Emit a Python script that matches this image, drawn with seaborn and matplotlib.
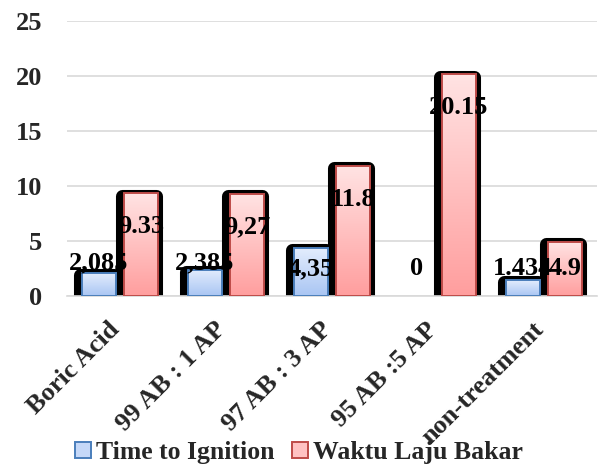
import numpy as np
import pandas as pd
import matplotlib
matplotlib.use("Agg")
import matplotlib.pyplot as plt
import matplotlib.patheffects as pe
from matplotlib.patches import Rectangle, Patch
from matplotlib.colors import LinearSegmentedColormap
import seaborn as sns

categories = ["Boric Acid", "99 AB : 1 AP", "97 AB : 3 AP", "95 AB :5 AP", "non-treatment"]
series_names = ["Time to Ignition", "Waktu Laju Bakar"]
time_to_ignition = [2.085, 2.385, 4.35, 0, 1.434]
waktu_laju_bakar = [9.33, 9.27, 11.8, 20.15, 4.9]
label_tti = ["2,085", "2,385", "4,35", "0", "1.434"]
label_wlb = ["9.33", "9,27", "11.8", "20.15", "4.9"]
y_ticks = [0, 5, 10, 15, 20, 25]

df = pd.DataFrame({
    "category": categories * 2,
    "series": [series_names[0]] * 5 + [series_names[1]] * 5,
    "value": time_to_ignition + waktu_laju_bakar,
})

sns.set_theme(style="white")
plt.rcParams["font.family"] = ["Liberation Serif", "DejaVu Serif"]
plt.rcParams["font.weight"] = "bold"

fig = plt.figure(figsize=(5.98, 4.69), dpi=100)
ax = fig.add_axes([0.112, 0.369, 0.886, 0.586])

edge_cols = {series_names[0]: "#4a7ebb", series_names[1]: "#be4b48"}
grads = {
    series_names[0]: LinearSegmentedColormap.from_list("b", ["#a9c5f3", "#e3edfd"]),
    series_names[1]: LinearSegmentedColormap.from_list("r", ["#ff9e9e", "#ffe3e3"]),
}
mid_cols = {series_names[0]: "#c5d8f8", series_names[1]: "#ffc2c2"}

sns.barplot(data=df, x="category", y="value", hue="series", hue_order=series_names,
            order=categories, palette=mid_cols, width=0.8, gap=0.2,
            legend=False, ax=ax, zorder=2)

ax.set_ylim(0, 25)
ax.set_xlim(-0.5, len(categories) - 0.5)
ax.set_yticks(y_ticks)
ax.grid(axis="y", color="#d9d9d9", linewidth=1.2, zorder=0)
ax.set_axisbelow(True)
for s in ["top", "right", "left"]:
    ax.spines[s].set_visible(False)
ax.spines["bottom"].set_color("#d9d9d9")
ax.spines["bottom"].set_linewidth(1.2)
ax.set_xlabel("")
ax.set_ylabel("")
ax.tick_params(axis="both", length=0)
ax.tick_params(axis="y", labelsize=19, pad=18)
for t in ax.get_yticklabels():
    t.set_fontweight("bold")
ax.set_xticks(range(len(categories)))
ax.set_xticklabels(categories, rotation=45, ha="right", va="top",
                   rotation_mode="anchor", fontsize=19, fontweight="bold")
for t in ax.get_xticklabels():
    t.set_transform(t.get_transform() + matplotlib.transforms.ScaledTranslation(-0.12, -0.17, fig.dpi_scale_trans))

bars = [p for p in ax.patches if isinstance(p, Rectangle)]
ser_order = [series_names[0]] * 5 + [series_names[1]] * 5
grad_img = np.linspace(0, 1, 256).reshape(-1, 1)
for p, sname in zip(bars, ser_order):
    x, y0 = p.get_x(), p.get_y()
    w, h = p.get_width(), p.get_height()
    p.set_facecolor("black")
    p.set_edgecolor("black")
    p.set_linewidth(0)
    if h <= 0:
        p.set_visible(False)
        continue
    p.set_path_effects([
        pe.Stroke(offset=(-1.3, -1.6), linewidth=9.4, foreground="black", joinstyle="round"),
        pe.Normal(),
    ])
    im = ax.imshow(grad_img, cmap=grads[sname], aspect="auto", origin="lower",
                   extent=[x, x + w, y0, y0 + h], zorder=2.5, interpolation="bilinear")
    im.set_clip_path(p)
    ax.add_patch(Rectangle((x, y0), w, h, facecolor="none",
                           edgecolor=edge_cols[sname], linewidth=1.4, zorder=3))

ax.set_xlim(-0.5, len(categories) - 0.5)
ax.set_ylim(0, 25)

for p, sname, lab, v in zip(bars, ser_order, label_tti + label_wlb,
                            time_to_ignition + waktu_laju_bakar):
    cx = p.get_x() + p.get_width() / 2
    ly = max(v - 3.0, 2.5)
    if 1.5 < v < 3:
        ly = 3.0
    ax.text(cx, ly, lab, ha="center", va="center", fontsize=19,
            fontweight="bold", color="black", zorder=5)

handles = [Patch(facecolor=mid_cols[s], edgecolor=edge_cols[s], linewidth=1.4, label=s)
           for s in series_names]
fig.legend(handles=handles, loc="center", bbox_to_anchor=(0.5, 0.035), ncol=2,
           frameon=False, prop={"size": 18.5, "weight": "bold"},
           handlelength=0.6, handleheight=0.6, handletextpad=0.2, columnspacing=0.7)

fig.savefig("out.png", dpi=100)
